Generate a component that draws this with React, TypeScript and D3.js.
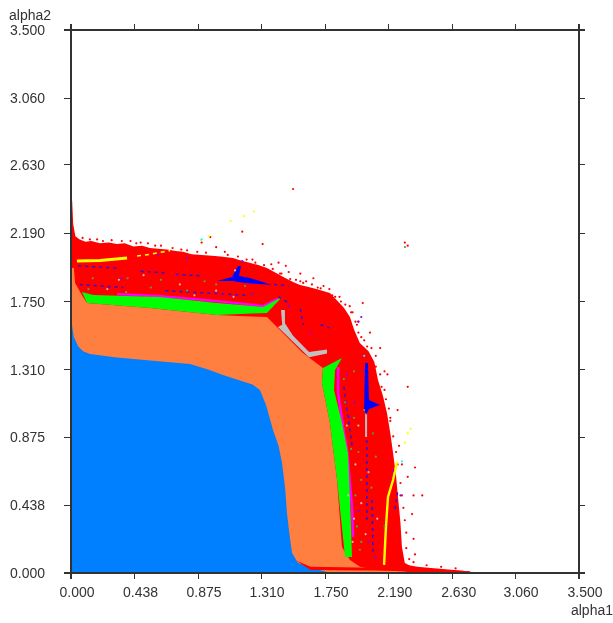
import React from "react";
import * as d3 from "d3";

type P = [number, number];
const tickValues = [0, 0.438, 0.875, 1.31, 1.75, 2.19, 2.63, 3.06, 3.5];

const redRegion: P[] = [[0,0],[0,2.4],[0.008,2.4],[0.015,2.25],[0.03,2.17],[0.06,2.15],[0.1,2.135],[0.14,2.14],[0.2,2.125],[0.26,2.13],[0.317,2.12],[0.37,2.125],[0.43,2.105],[0.49,2.11],[0.544,2.095],[0.6,2.09],[0.66,2.085],[0.72,2.075],[0.772,2.07],[0.83,2.055],[0.9,2.05],[0.97,2.045],[1.03,2.04],[1.116,2.03],[1.17,2.015],[1.23,2.0],[1.29,1.985],[1.35,1.966],[1.41,1.935],[1.47,1.905],[1.53,1.875],[1.578,1.856],[1.63,1.845],[1.69,1.83],[1.784,1.805],[1.83,1.76],[1.88,1.71],[1.922,1.65],[1.95,1.57],[1.99,1.483],[2.05,1.43],[2.09,1.36],[2.115,1.244],[2.15,1.14],[2.177,1.031],[2.2,0.9],[2.219,0.773],[2.24,0.62],[2.253,0.49],[2.27,0.32],[2.28,0.168],[2.3,0.064],[2.33,0.05],[2.384,0.04],[2.5,0.03],[2.6,0.022],[2.7,0.015],[2.76,0.005],[2.76,0]];
const blueRegion: P[] = [[0,0],[0,1.6],[0.007,1.599],[0.02,1.52],[0.05,1.46],[0.083,1.43],[0.131,1.412],[0.3,1.39],[0.544,1.37],[0.82,1.347],[0.95,1.31],[1.047,1.276],[1.164,1.24],[1.25,1.215],[1.302,1.18],[1.345,1.08],[1.392,0.922],[1.43,0.82],[1.454,0.709],[1.475,0.55],[1.488,0.387],[1.505,0.25],[1.523,0.129],[1.564,0.064],[1.66,0.03],[1.764,0.006],[1.8,0]];
const orangeRegion: P[] = [[0,0],[0,1.966],[0.02,1.966],[0.028,1.869],[0.083,1.779],[0.11,1.74],[0.544,1.708],[1.006,1.663],[1.35,1.65],[1.44,1.566],[1.598,1.418],[1.736,1.321],[1.729,1.225],[1.784,0.967],[1.833,0.599],[1.867,0.168],[1.922,0.084],[1.991,0.04],[2.1,0.02],[2.3,0.01],[2.35,0]];
const greenTop: P[] = [[0.076,1.811],[0.152,1.792],[0.613,1.779],[1.006,1.74],[1.323,1.715],[1.454,1.779],[1.35,1.676],[1.006,1.663],[0.544,1.708],[0.11,1.74]];
const greenRight: P[] = [[1.867,1.386],[1.819,1.309],[1.812,1.18],[1.867,0.967],[1.908,0.773],[1.922,0.49],[1.936,0.103],[1.888,0.103],[1.833,0.599],[1.784,0.967],[1.729,1.225],[1.736,1.321]];
const redStrip: P[] = [[1.55,0.08],[1.65,0.04],[2.3,0.03],[2.75,0.012],[2.75,0.006],[2.3,0.014],[1.65,0.02]];
const blueStarTop: P[] = [[1.006,1.882],[1.109,1.908],[1.151,1.979],[1.171,1.979],[1.158,1.914],[1.233,1.902],[1.385,1.856],[1.199,1.869],[1.116,1.882]];
const blueStarRight: P[] = [[2.026,1.354],[2.046,1.354],[2.053,1.115],[2.129,1.083],[2.053,1.057],[2.033,1.018],[2.019,1.057]];
const greyBranch: P[] = [[1.447,1.695],[1.474,1.695],[1.474,1.61],[1.53,1.53],[1.64,1.425],[1.764,1.44],[1.764,1.415],[1.64,1.39],[1.53,1.49],[1.426,1.585],[1.455,1.6]];

const magentaTop: P[] = [[0.317,1.798],[0.613,1.785],[1.006,1.753],[1.323,1.721],[1.43,1.77]];
const magentaRight: P[] = [[1.84,1.328],[1.84,1.16],[1.874,0.941],[1.902,0.793],[1.936,0.425],[1.943,0.232]];
const yellowLeft: P[] = [[0.041,2.011],[0.2,2.015],[0.386,2.03]];
const yellowLeftFaint: P[] = [[0.455,2.043],[0.55,2.055],[0.682,2.078]];
const yellowRight: P[] = [[2.157,0.052],[2.17,0.297],[2.184,0.49],[2.219,0.599],[2.246,0.715]];
const greyColumn: P[] = [[2.033,1.031],[2.033,0.877]];
const blueDashes: P[][] = [
  [[0.05,1.98],[0.32,1.965]],[[0.48,1.945],[0.65,1.935]],[[0.72,1.925],[0.9,1.915]],
  [[0.06,1.86],[0.36,1.84]],[[0.65,1.82],[1.2,1.79]],[[1.4,1.86],[1.5,1.85]],[[1.43,1.78],[1.5,1.74]],
  [[1.72,1.6],[1.78,1.58]],[[1.58,1.7],[1.6,1.6]],[[2.039,0.857],[2.039,0.342]],[[2.074,0.47],[2.081,0.116]],
  [[1.88,1.2],[1.94,0.8]],[[2.25,0.52],[2.23,0.4]],
];

const redSpecks: P[] = [[1.53,2.475],[0.41,2.14],[0.53,2.125],[0.76,2.085],[0.9,2.13],[0.96,2.165],[1.0,2.1],[1.06,2.07],[1.18,2.2],[1.32,2.12],[1.38,1.99],[1.48,1.98],[1.5,1.94],[1.62,1.88],[1.74,1.85],[1.85,1.78],[1.92,1.72],[1.97,1.6],[2.01,1.74],[2.06,1.55],[2.13,1.45],[2.18,1.28],[2.25,1.05],[2.32,1.2],[2.37,0.68],[2.42,0.5],[2.3,2.13],[2.32,2.11],[0.13,2.15],[0.22,2.14],[0.48,2.13],[0.62,2.11],[1.25,2.02],[1.45,1.93],[1.58,1.88],[1.7,1.84],[1.82,1.78],[1.94,1.68],[2.02,1.5],[2.1,1.4],[2.16,1.18],[2.2,0.98],[2.26,0.82],[2.32,0.62],[2.35,0.38],[2.36,0.22],[2.37,0.12],
[0.08,2.16],[0.18,2.15],[0.28,2.145],[0.35,2.14],[0.45,2.125],[0.58,2.11],[0.7,2.095],[0.8,2.08],[0.87,2.07],[0.93,2.065],[1.08,2.05],[1.15,2.04],[1.21,2.02],[1.27,2.0],[1.33,1.985],[1.39,1.96],[1.44,1.93],[1.51,1.895],[1.55,1.89],[1.6,1.87],[1.66,1.86],[1.72,1.835],[1.78,1.83],[1.8,1.79],[1.86,1.75],[1.89,1.73],[1.93,1.68],[1.96,1.62],[1.98,1.55],[2.0,1.52],[2.04,1.46],[2.07,1.45],[2.1,1.33],[2.13,1.28],[2.14,1.2],[2.17,1.12],[2.19,1.06],[2.2,1.0],[2.22,0.88],[2.24,0.78],[2.25,0.7],[2.27,0.58],[2.28,0.5],[2.29,0.42],[2.3,0.34],[2.31,0.26],[2.31,0.16],[2.33,0.09],[2.36,0.07],[2.45,0.05],[2.55,0.04],[2.65,0.03],[1.43,2.0],[1.58,1.93],[1.67,1.9],[1.98,1.62],[2.16,1.3],[2.28,0.7],[2.36,0.5]];
const yellowSpecks: P[] = [[0.896,2.146],[0.95,2.17],[1.1,2.27],[1.19,2.3],[1.26,2.33],[2.3,0.84],[2.32,0.9],[2.34,0.93]];
const cyanSpecks: P[] = [[0.9,2.15],[2.28,0.72],[2.02,1.4]];
const greenSpecks: P[] = [[2.301,2.101],[0.15,1.9],[0.39,1.9],[0.62,1.89],[0.92,1.88],[1.2,1.85],[0.38,1.81],[0.12,1.83],[0.55,1.84],[0.8,1.82],[1.0,1.86],[1.89,1.1],[1.93,0.8],[2.0,0.6],[2.1,0.75],[1.97,0.3],[2.02,1.05],[1.99,0.15],[2.16,0.3],[1.95,1.3],[1.88,1.25],[1.95,1.0],[1.98,0.78],[2.08,0.9],[2.0,0.2],[2.07,0.55],[1.96,0.5]];
const greySpecks: P[] = [[0.5,1.92],[0.75,1.86],[1.13,1.95],[1.0,1.82],[0.25,1.83],[0.85,1.79],[1.12,1.78],[0.33,1.89],[1.9,0.95],[1.96,0.7],[2.05,0.65],[1.94,0.2],[2.0,0.45],[1.91,0.5],[2.03,0.25],[1.98,0.95],[2.11,0.35],[1.95,0.35]];
const purpleSpecks: P[] = [[0.35,1.9],[0.6,2.05],[0.8,2.03],[1.18,2.01],[1.25,1.8],[1.5,1.72],[1.65,1.55],[1.98,1.62],[2.0,1.65],[2.02,1.3],[1.95,1.1],[2.22,0.66],[2.27,0.5],[1.98,0.4],[1.9,1.28],[1.92,1.0],[2.05,0.2],[2.1,0.1]];

const X0 = 71, X1 = 579, Y0 = 573, Y1 = 30;
const x = d3.scaleLinear().domain([0, 3.5]).range([X0, X1]);
const y = d3.scaleLinear().domain([0, 3.5]).range([Y0, Y1]);
const line = d3.line<P>().x((d) => x(d[0])).y((d) => y(d[1]));
const closed = (p: P[]) => line(p)! + "Z";

const RED = "#ff0000", ORANGE = "#ff7f3f", BLUE = "#007fff", GREEN = "#00ff00", PURE = "#0000ff", MAG = "#ff00ff", YEL = "#ffff00", GREY = "#c0c0c0";
const INK = "#333";
const font = "Liberation Sans, Arial, sans-serif";

const specks = (pts: P[], color: string, k: string, r = 1.1) =>
  pts.map((d, i) => <circle key={k + i} cx={x(d[0])} cy={y(d[1])} r={r} fill={color} />);

export default function App() {
  return (
    <svg width={613} height={623} style={{ position: "absolute", left: 0, top: 0, background: "#fff" }}>
      <defs>
        <filter id="soft" x="0" y="0" width="1" height="1" filterUnits="objectBoundingBox"><feGaussianBlur stdDeviation="0.45" /></filter>
      </defs>
      <g filter="url(#soft)">
        <rect width={613} height={623} fill="#fff" />
        <path d={closed(redRegion)} fill={RED} />
        {specks(redSpecks, RED, "r")}
        <path d={closed(orangeRegion)} fill={ORANGE} />
        <path d={closed(blueRegion)} fill={BLUE} />
        <path d={line(magentaTop)!} fill="none" stroke={MAG} strokeWidth={2.2} />
        <path d={line(magentaRight)!} fill="none" stroke={MAG} strokeWidth={2.5} />
        <path d={closed(greenTop)} fill={GREEN} />
        <path d={closed(greenRight)} fill={GREEN} />
        <path d={closed(redStrip)} fill={RED} />
        <path d={closed(greyBranch)} fill={GREY} />
        <path d={line(greyColumn)!} fill="none" stroke={GREY} strokeWidth={2} />
        {blueDashes.map((s, i) => (
          <path key={i} d={line(s)!} fill="none" stroke="#2a10e8" strokeWidth={1.5} strokeDasharray="3 4" />
        ))}
        <path d={closed(blueStarTop)} fill={PURE} />
        <path d={closed(blueStarRight)} fill={PURE} />
        <path d={line(yellowLeft)!} fill="none" stroke={YEL} strokeWidth={3} />
        <path d={line(yellowLeftFaint)!} fill="none" stroke={YEL} strokeWidth={1.6} strokeDasharray="4 4" />
        <path d={line(yellowRight)!} fill="none" stroke={YEL} strokeWidth={2.4} />
        {specks(yellowSpecks, YEL, "y")}
        {specks(cyanSpecks, "#00ffff", "c")}
        {specks(greenSpecks, "#5aa040", "g")}
        {specks(greySpecks, GREY, "s")}
        {specks(purpleSpecks, "#7f00ff", "p")}

        <g stroke={INK} strokeWidth={1} shapeRendering="crispEdges">
          <line x1={X0} x2={X0} y1={Y1 - 6} y2={Y0 + 6} strokeWidth={2} />
          <line x1={X1} x2={X1} y1={Y1 - 6} y2={Y0 + 6} strokeWidth={2} />
          <line x1={X0 - 7} x2={X1 + 6} y1={Y0} y2={Y0} strokeWidth={2} />
          <line x1={X0 - 7} x2={X1 + 6} y1={Y1} y2={Y1} strokeWidth={1.5} />
          {tickValues.map((t) => (
            <g key={t}>
              <line x1={x(t)} x2={x(t)} y1={Y0} y2={Y0 + 6} />
              <line x1={x(t)} x2={x(t)} y1={Y1 - 6} y2={Y1} />
              <line x1={X0 - 7} x2={X0} y1={y(t)} y2={y(t)} />
              <line x1={X1} x2={X1 + 6} y1={y(t)} y2={y(t)} />
            </g>
          ))}
        </g>
        <g fontFamily={font} fontSize={14} fill={INK}>
          {tickValues.map((t) => (
            <g key={t}>
              <text x={x(t) + 6} y={Y0 + 24} textAnchor="middle">{t.toFixed(3)}</text>
              <text x={45} y={y(t) + 5} textAnchor="end">{t.toFixed(3)}</text>
            </g>
          ))}
          <text x={9} y={20}>alpha2</text>
          <text x={613} y={615} textAnchor="end">alpha1</text>
        </g>
      </g>
    </svg>
  );
}
